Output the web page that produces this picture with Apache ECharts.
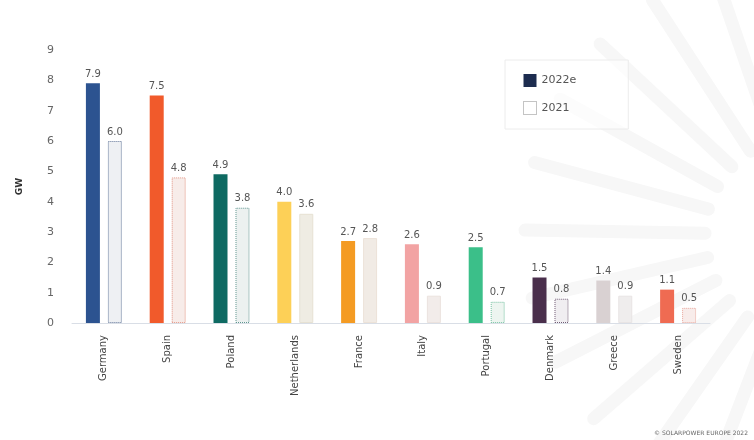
<!DOCTYPE html>
<html>
<head>
<meta charset="utf-8">
<script src="https://cdn.jsdelivr.net/npm/echarts@6/dist/echarts.min.js"></script>
<style>
  html, body { margin: 0; padding: 0; background: #ffffff; }
  #chart { width: 754px; height: 440px; }
</style>
</head>
<body>
<div id="chart"></div>
<script>
// Solar installations by country, GW
const countries = ['Germany', 'Spain', 'Poland', 'Netherlands', 'France', 'Italy', 'Portugal', 'Denmark', 'Greece', 'Sweden'];
const values2022e = [7.9, 7.5, 4.9, 4.0, 2.7, 2.6, 2.5, 1.5, 1.4, 1.1];
const values2021 = [6.0, 4.8, 3.8, 3.6, 2.8, 0.9, 0.7, 0.8, 0.9, 0.5];
const yTicks = [0, 1, 2, 3, 4, 5, 6, 7, 8, 9];

// country colours for the 2022e bars
const solidColors = ['#2c5390', '#f15a2b', '#0e6a62', '#fdd057', '#f49b23', '#f2a3a3', '#3bbf89', '#4a2f4c', '#d9d1d2', '#ef6b52'];
// lighter fills and outlines for the 2021 bars
const lightFills = ['#eef0f3', '#f7ece9', '#ecf1f0', '#efece3', '#f1ebe5', '#f2ecea', '#edf5f0', '#f0eef1', '#efeded', '#f8ecea'];
const lightBorders = ['#5f7396', '#e2907f', '#5f968f', '#e6e1d3', '#ece2d8', '#ebe2de', '#72c09f', '#6f5a73', '#e8e4e4', '#e8a498'];
const dottedEdge = [true, true, true, false, false, false, true, true, false, true];

const chart = echarts.init(document.getElementById('chart'));

// faint sunburst decoration on the right side
const rays = [];
const cx = 805, cy = 235;
for (let a = 95; a <= 265; a += 14) {
  const r = a * Math.PI / 180;
  rays.push({
    type: 'line',
    z: -10,
    silent: true,
    shape: {
      x1: cx + Math.cos(r) * 100, y1: cy - Math.sin(r) * 100,
      x2: cx + Math.cos(r) * 280, y2: cy - Math.sin(r) * 280
    },
    style: { stroke: '#f7f7f7', lineWidth: 13, lineCap: 'round' }
  });
}

const labelStyle = {
  show: true,
  position: 'top',
  distance: 4,
  color: '#555',
  fontSize: 10,
  fontFamily: 'DejaVu Sans',
  formatter: p => p.value.toFixed(1)
};

chart.setOption({
  backgroundColor: '#ffffff',
  animation: false,
  graphic: rays.concat([
    {
      type: 'text',
      right: 6,
      bottom: 4,
      style: { text: '© SOLARPOWER EUROPE 2022', fill: '#666', fontSize: 6, fontFamily: 'DejaVu Sans' }
    }
  ]),
  legend: {
    orient: 'vertical',
    left: 505,
    top: 60,
    padding: [14, 52, 14, 18],
    borderColor: '#ececec',
    borderWidth: 1,
    backgroundColor: 'rgba(255,255,255,0.6)',
    itemWidth: 13,
    itemHeight: 13,
    itemGap: 14,
    textStyle: { color: '#555', fontSize: 11, fontFamily: 'DejaVu Sans' },
    data: [
      { name: '2022e', icon: 'rect', itemStyle: { color: '#1d2c4f', borderWidth: 0 } },
      { name: '2021', icon: 'rect', itemStyle: { color: '#ffffff', borderColor: '#888', borderWidth: 1, borderType: 'dotted' } }
    ]
  },
  grid: { left: 72, right: 44, top: 50, bottom: 117 },
  xAxis: {
    type: 'category',
    data: countries,
    axisLine: { lineStyle: { color: '#d9dee6', width: 1 } },
    axisTick: { show: false },
    axisLabel: {
      rotate: 90,
      margin: 12,
      color: '#444',
      fontSize: 10,
      fontFamily: 'DejaVu Sans'
    }
  },
  yAxis: {
    type: 'value',
    min: yTicks[0],
    max: yTicks[yTicks.length - 1],
    interval: 1,
    name: 'GW',
    nameLocation: 'middle',
    nameGap: 48,
    nameTextStyle: { color: '#333', fontSize: 9, fontWeight: 'bold', fontFamily: 'DejaVu Sans' },
    axisLine: { show: false },
    axisTick: { show: false },
    splitLine: { show: false },
    axisLabel: { color: '#666', fontSize: 11, margin: 18, fontFamily: 'DejaVu Sans' }
  },
  series: [
    {
      name: '2022e',
      type: 'bar',
      barWidth: 14,
      barGap: '57%',
      label: labelStyle,
      data: values2022e.map((v, i) => ({ value: v, itemStyle: { color: solidColors[i] } }))
    },
    {
      name: '2021',
      type: 'bar',
      barWidth: 14,
      label: labelStyle,
      data: values2021.map((v, i) => ({
        value: v,
        itemStyle: {
          color: lightFills[i],
          borderColor: lightBorders[i],
          borderWidth: 1,
          borderType: dottedEdge[i] ? 'dotted' : 'solid'
        }
      }))
    }
  ]
});
</script>
</body>
</html>
